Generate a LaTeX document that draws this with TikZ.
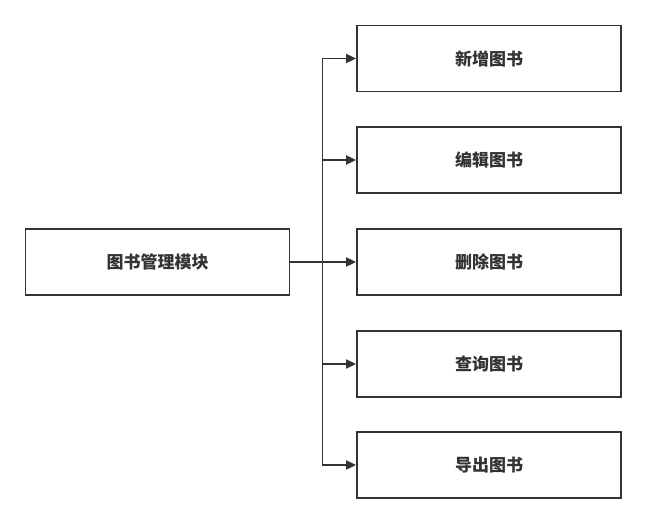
\documentclass[tikz,border=0pt]{standalone}
\usepackage{fontspec}
\newfontfamily\cjk{Noto Sans CJK SC}
\usetikzlibrary{arrows.meta}

\begin{document}
\begin{tikzpicture}[x=1pt, y=-1pt, line width=1.8pt, font=\cjk\bfseries\fontsize{17}{19}\selectfont,
  box/.style={draw=black!80, minimum width=264pt, minimum height=66pt, inner sep=0pt, text=black!80},
  link/.style={draw=black!80, -{Triangle[length=10pt,width=9pt]}}]
\useasboundingbox (0,0) rectangle (645,524);
% module on the left
\node[box] (mod) at (157.5,262) {图书管理模块};
% the five functions
\node[box] (add) at (489,58.5) {新增图书};
\node[box] (edit) at (489,160) {编辑图书};
\node[box] (del) at (489,262) {删除图书};
\node[box] (query) at (489,364) {查询图书};
\node[box] (export) at (489,465) {导出图书};
% trunk and branches
\coordinate (trunk) at (322.5,262);
\draw[draw=black!80] (mod.east) -- (trunk);
\foreach \n in {add,edit,del,query,export}
  \draw[link] (trunk) |- (\n.west);
\end{tikzpicture}
\end{document}
